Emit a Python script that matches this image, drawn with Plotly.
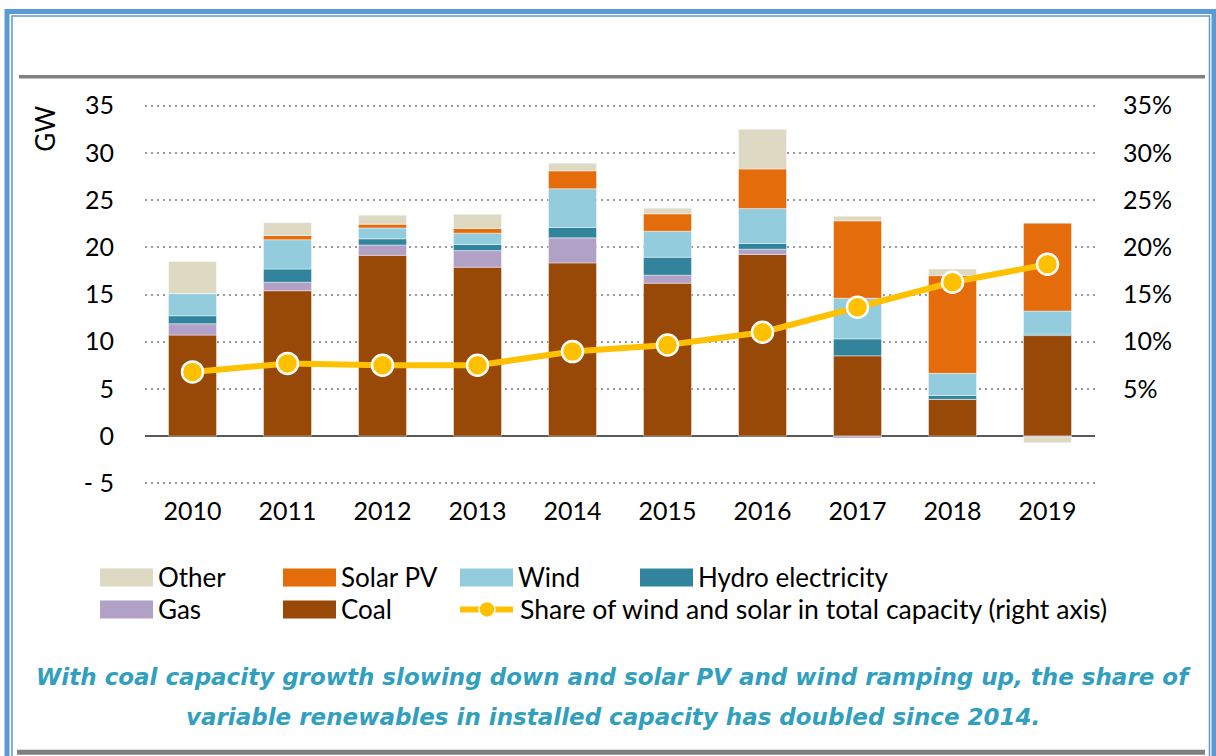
import plotly.graph_objects as go

years = ["2010", "2011", "2012", "2013", "2014", "2015", "2016", "2017", "2018", "2019"]
coal = [10.7, 15.4, 19.15, 17.9, 18.35, 16.2, 19.25, 8.5, 3.9, 10.65]
gas = [1.2, 0.9, 1.1, 1.75, 2.65, 0.85, 0.55, -0.2, 0.0, -0.1]
hydro = [0.85, 1.4, 0.65, 0.65, 1.1, 1.9, 0.6, 1.8, 0.4, 0.15]
wind = [2.35, 3.1, 1.15, 1.2, 4.1, 2.75, 3.7, 4.3, 2.35, 2.45]
solar = [0.0, 0.45, 0.4, 0.5, 1.9, 1.85, 4.2, 8.2, 10.35, 9.3]
other = [3.4, 1.35, 0.95, 1.5, 0.8, 0.6, 4.2, 0.5, 0.7, -0.6]
share = [6.8, 7.7, 7.5, 7.5, 8.95, 9.65, 11.0, 13.65, 16.3, 18.2]

left_ticks = [-5, 0, 5, 10, 15, 20, 25, 30, 35]
left_labels = ["- 5", "0", "5", "10", "15", "20", "25", "30", "35"]
right_ticks = [5, 10, 15, 20, 25, 30, 35]
right_labels = ["5%", "10%", "15%", "20%", "25%", "30%", "35%"]

colors = {
    "Coal": "#984807",
    "Gas": "#B2A1C7",
    "Hydro electricity": "#31849B",
    "Wind": "#93CDDD",
    "Solar PV": "#E46C0A",
    "Other": "#DDD9C3",
}
LINE = "#FFC000"
FONT = "Lato"

W, H = 1216, 756
# plot area in pixels; y range padded by half a unit either side of -5..35
PAD = 0.5
UNIT = (483 - 106) / 40.0
L, R = 145, 1095
T, B = 106 - PAD * UNIT, 483 + PAD * UNIT


def px(x):
    return (x - L) / (R - L)


def py(y):
    return (B - y) / (B - T)


fig = go.Figure()
for name, vals in [("Coal", coal), ("Gas", gas), ("Hydro electricity", hydro),
                   ("Wind", wind), ("Solar PV", solar), ("Other", other)]:
    fig.add_trace(go.Bar(x=years, y=vals, name=name, marker_color=colors[name],
                         marker_line=dict(color="rgba(255,255,255,0.7)", width=0.6)))

fig.add_trace(go.Scatter(x=years, y=share, yaxis="y2", mode="lines+markers",
                         name="Share of wind and solar in total capacity (right axis)",
                         line=dict(color=LINE, width=6),
                         marker=dict(size=21, color=LINE, line=dict(color="white", width=2.5))))

shapes = []
# outer blue frame
shapes.append(dict(type="rect", xref="paper", yref="paper", x0=px(7), x1=px(1214), y0=py(775), y1=py(12),
                   line=dict(color="#5B9BD5", width=5), layer="above"))
shapes.append(dict(type="rect", xref="paper", yref="paper", x0=px(12), x1=px(1209.5), y0=py(775), y1=py(16.5),
                   line=dict(color="#5B9BD5", width=1.5), layer="above"))
# grey rules
shapes.append(dict(type="line", xref="paper", yref="paper", x0=px(19), x1=px(1205), y0=py(77), y1=py(77),
                   line=dict(color="#808080", width=3.5)))
shapes.append(dict(type="line", xref="paper", yref="paper", x0=px(17), x1=px(1205), y0=py(751.5), y1=py(751.5),
                   line=dict(color="#808080", width=5)))

annotations = [
    dict(text="GW", xref="paper", yref="paper", x=px(45), y=py(129), textangle=-90, showarrow=False,
         xanchor="center", yanchor="middle", font=dict(family=FONT, size=26, color="#000000")),
    dict(text="<i><b>With coal capacity growth slowing down and solar PV and wind ramping up, the share of</b></i>",
         xref="paper", yref="paper", x=px(613), y=py(676), showarrow=False, xanchor="center", yanchor="middle",
         font=dict(family="DejaVu Sans", size=23, color="#31A0BE")),
    dict(text="<i><b>variable renewables in installed capacity has doubled since 2014.</b></i>",
         xref="paper", yref="paper", x=px(613), y=py(716), showarrow=False, xanchor="center", yanchor="middle",
         font=dict(family="DejaVu Sans", size=23, color="#31A0BE")),
]

# manual legend
legend_items = [
    ("Other", 100, 577), ("Solar PV", 283, 577), ("Wind", 460, 577), ("Hydro electricity", 640, 577),
    ("Gas", 100, 609), ("Coal", 283, 609),
]
for name, x0, yc in legend_items:
    shapes.append(dict(type="rect", xref="paper", yref="paper", x0=px(x0), x1=px(x0 + 53),
                       y0=py(yc + 9), y1=py(yc - 9), fillcolor=colors[name], line=dict(width=0)))
    annotations.append(dict(text=name, xref="paper", yref="paper", x=px(x0 + 56), y=py(yc),
                            xanchor="left", yanchor="middle", showarrow=False,
                            font=dict(family=FONT, size=26, color="#000000")))
shapes.append(dict(type="line", xref="paper", yref="paper", x0=px(460), x1=px(513), y0=py(609), y1=py(609),
                   line=dict(color=LINE, width=6)))
shapes.append(dict(type="circle", xref="paper", yref="paper", x0=px(479), x1=px(495), y0=py(617), y1=py(601),
                   fillcolor=LINE, line=dict(color="white", width=1.5)))
annotations.append(dict(text="Share of wind and solar in total capacity (right axis)", xref="paper", yref="paper",
                        x=px(518), y=py(609), xanchor="left", yanchor="middle", showarrow=False,
                        font=dict(family=FONT, size=26.6, color="#000000")))

fig.update_layout(
    width=W, height=H,
    margin=dict(l=L, r=W - R, t=T, b=H - B),
    paper_bgcolor="white", plot_bgcolor="white",
    barmode="relative", bargap=0.495,
    showlegend=False,
    font=dict(family=FONT, size=24, color="#000000"),
    xaxis=dict(type="category", range=[-0.5, 9.5], showgrid=False, showline=False,
               ticks="outside", ticklen=1, tickcolor="rgba(0,0,0,0)",
               tickfont=dict(family=FONT, size=25)),
    yaxis=dict(range=[-5 - PAD, 35 + PAD], tickvals=left_ticks, ticktext=left_labels,
               showgrid=True, gridcolor="#9A9A9A", gridwidth=2, griddash="2px,4px",
               zeroline=True, zerolinecolor="#595959", zerolinewidth=2,
               ticks="outside", ticklen=25, tickcolor="rgba(0,0,0,0)",
               tickfont=dict(family=FONT, size=25)),
    yaxis2=dict(range=[-5 - PAD, 35 + PAD], overlaying="y", side="right", tickvals=right_ticks,
                ticktext=right_labels, showgrid=False, zeroline=False,
                ticks="outside", ticklen=22, tickcolor="rgba(0,0,0,0)",
                tickfont=dict(family=FONT, size=25)),
    shapes=shapes,
    annotations=annotations,
)

fig.write_html("out.html", config={"displayModeBar": False},
               post_script="document.body.style.margin='0';")
